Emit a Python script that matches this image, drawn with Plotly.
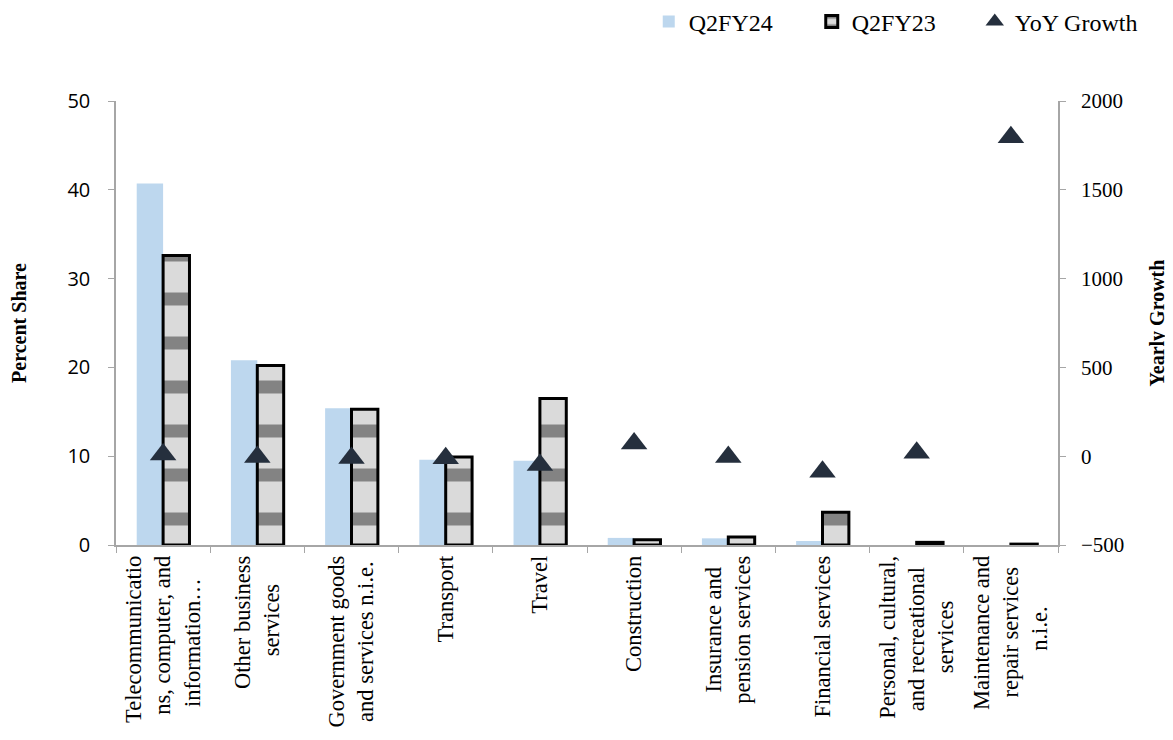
import plotly.graph_objects as go

NB = "\u00a0"

categories = [
    "Telecommunicatio<br>ns, computer, and<br>information…" + NB * 4,
    "Other business<br>services" + NB * 5,
    "Government goods<br>and services n.i.e." + NB * 1,
    "Transport",
    "Travel",
    "Construction",
    "Insurance and" + NB * 2 + "<br>pension services",
    "Financial services",
    "Personal, cultural,<br>and recreational" + NB * 2 + "<br>services" + NB * 8,
    "Maintenance and<br>repair services" + NB * 2 + "<br>n.i.e." + NB * 9,
]
q2fy24 = [40.7, 20.8, 15.4, 9.6, 9.5, 0.8, 0.75, 0.45, 0.0, 0.0]
q2fy23 = [32.6, 20.2, 15.3, 9.9, 16.5, 0.6, 0.9, 3.7, 0.3, 0.1]
yoy_growth = [10, -5, -10, -12, -50, 72, -5, -87, 20, 1796]

serif = "Liberation Serif"

fig = go.Figure()
fig.add_trace(go.Bar(
    x=categories, y=q2fy24, name="Q2FY24",
    marker=dict(color="#bdd7ee", line=dict(width=0)),
))
fig.add_trace(go.Bar(
    x=categories, y=q2fy23, name="Q2FY23",
    marker=dict(color="#d0d0d0", line=dict(color="black", width=3),
                pattern=dict(shape="-", fgcolor="#3c3c3c", fgopacity=0.55,
                             bgcolor="#dadada", size=44, solidity=0.3)),
))
fig.add_trace(go.Scatter(
    x=categories, y=yoy_growth, name="YoY Growth", yaxis="y2",
    mode="markers",
    marker=dict(symbol="triangle-up", size=23, color="#252f3d",
                line=dict(color="#ffffff", width=0)),
))

fig.update_layout(
    width=1165, height=732,
    margin=dict(l=108, r=115, t=93, b=195, autoexpand=False),
    paper_bgcolor="white", plot_bgcolor="white",
    barmode="group", bargap=0.44, bargroupgap=0,
    font=dict(family=serif, size=22, color="black"),
    legend=dict(orientation="h", xref="container", yref="container",
                x=0.55, xanchor="left", y=0.981, yanchor="middle",
                font=dict(family=serif, size=24), bgcolor="rgba(0,0,0,0)",
                entrywidth=118, entrywidthmode="pixels", itemwidth=30),
    xaxis=dict(
        automargin=False, range=[-0.5, 9.5],
        showline=True, linecolor="#a6a6a6", linewidth=1.5,
        ticks="outside", tickson="boundaries", ticklen=6, tickcolor="#a6a6a6",
        tickangle=-90, tickfont=dict(family=serif, size=22.5),
        showgrid=False,
    ),
    yaxis=dict(
        automargin=False,
        range=[0, 50], dtick=10, showline=True, linecolor="#a6a6a6", linewidth=1.5,
        ticks="outside", ticklen=6, tickcolor="#a6a6a6", showgrid=False, zeroline=False,
        tickfont=dict(family="Open Sans", size=20), ticklabelstandoff=14,
        title=dict(text="<b>Percent Share</b>", font=dict(family=serif, size=20), standoff=38),
    ),
    yaxis2=dict(
        automargin=False,
        range=[-500, 2000], dtick=500, overlaying="y", side="right",
        showline=True, linecolor="#a6a6a6", linewidth=1.5,
        ticks="outside", ticklen=6, tickcolor="#a6a6a6", showgrid=False, zeroline=False,
        tickfont=dict(family=serif, size=21), ticklabelstandoff=11,
        title=dict(text="<b>Yearly Growth</b>", font=dict(family=serif, size=20), standoff=27),
    ),
)

fig.write_html("out.html")
